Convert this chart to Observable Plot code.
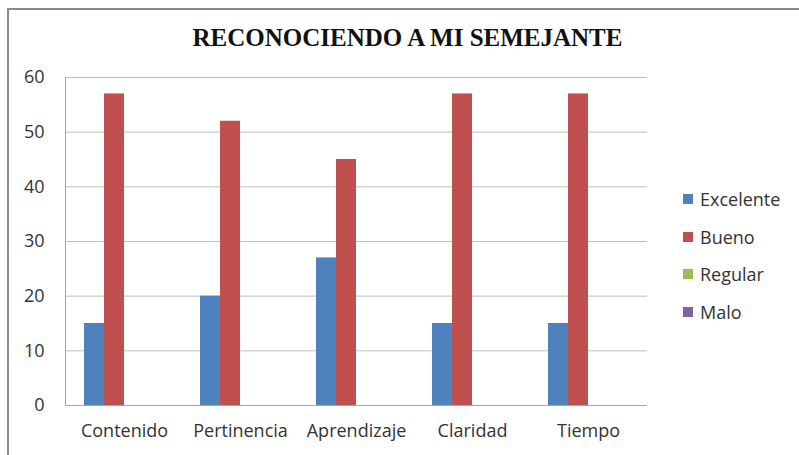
<!DOCTYPE html>
<html>
<head>
<meta charset="utf-8">
<script src="https://cdn.jsdelivr.net/npm/d3@7"></script>
<script src="https://cdn.jsdelivr.net/npm/@observablehq/plot@0.6"></script>
<style>
  html, body { margin: 0; padding: 0; background: #fff; }
  #wrap { position: relative; width: 799px; height: 455px; overflow: hidden; background: #fff; }
  #border { position: absolute; left: 7px; top: 8px; right: -10px; bottom: -10px;
            border-top: 2px solid #8a8a8a; border-left: 2px solid #8a8a8a; }
  #title { position: absolute; left: 0; width: 815px; top: 24px; text-align: center;
           font-family: "Liberation Serif", "Times New Roman", serif; font-weight: bold;
           font-size: 25px; color: #111; letter-spacing: 0px; }
  .layer { position: absolute; left: 0; top: 0; }
  #legend { position: absolute; left: 683px; top: 180px; font-family: "Open Sans", sans-serif;
            font-size: 18px; color: #333; }
  .item { height: 37.7px; display: flex; align-items: center; }
  .sw { width: 10px; height: 10px; margin-right: 7px; }
</style>
</head>
<body>
<div id="wrap">
  <div id="border"></div>
  <div id="axes" class="layer"></div>
  <div id="bars" class="layer"></div>
  <div id="title">RECONOCIENDO A MI SEMEJANTE</div>
  <div id="legend"></div>
</div>
<script>
const categories = ["Contenido", "Pertinencia", "Aprendizaje", "Claridad", "Tiempo"];
const series = ["Excelente", "Bueno", "Regular", "Malo"];
const excelente = [15, 20, 27, 15, 15];
const bueno = [57, 52, 45, 57, 57];
const regular = [0, 0, 0, 0, 0];
const malo = [0, 0, 0, 0, 0];
const yTicks = [0, 10, 20, 30, 40, 50, 60];
const colors = ["#4F81BD", "#C0504D", "#9BBB59", "#8064A2"];

const valuesBySeries = [excelente, bueno, regular, malo];
const data = [];
categories.forEach((c, i) => {
  series.forEach((s, j) => data.push({category: c, series: s, value: valuesBySeries[j][i]}));
});

const common = {
  width: 799,
  height: 455,
  marginLeft: 65,
  marginRight: 152,
  marginTop: 77,
  marginBottom: 50,
  style: {fontFamily: "'Open Sans', sans-serif", fontSize: "18px", color: "#333", background: "transparent"}
};

// Grid, axes and category labels
const axes = Plot.plot({
  ...common,
  x: {domain: categories, paddingInner: 0.3, paddingOuter: 0.15, label: null, axis: null},
  y: {domain: [0, 60], axis: null},
  marks: [
    Plot.gridY(yTicks, {stroke: "#BFBFBF", strokeOpacity: 1}),
    Plot.ruleY([0], {stroke: "#A6A6A6"}),
    Plot.frame({anchor: "left", stroke: "#A6A6A6"}),
    Plot.axisY(yTicks, {tickSize: 0, tickPadding: 21, label: null, fill: "#333"}),
    Plot.axisX({tickSize: 0, tickPadding: 19, label: null, fill: "#333"})
  ]
});
document.getElementById("axes").appendChild(axes);

// Grouped bars
const bars = Plot.plot({
  ...common,
  fx: {domain: categories, paddingInner: 0.3, paddingOuter: 0.15, label: null, axis: null},
  x: {domain: series, padding: 0, axis: null},
  y: {domain: [0, 60], axis: null},
  color: {domain: series, range: colors},
  marks: [
    Plot.barY(data, {fx: "category", x: "series", y: "value", fill: "series"})
  ]
});
document.getElementById("bars").appendChild(bars);

const legend = document.getElementById("legend");
series.forEach((s, i) => {
  const item = document.createElement("div");
  item.className = "item";
  const sw = document.createElement("div");
  sw.className = "sw";
  sw.style.background = colors[i];
  const label = document.createElement("span");
  label.textContent = s;
  item.appendChild(sw);
  item.appendChild(label);
  legend.appendChild(item);
});
</script>
</body>
</html>
